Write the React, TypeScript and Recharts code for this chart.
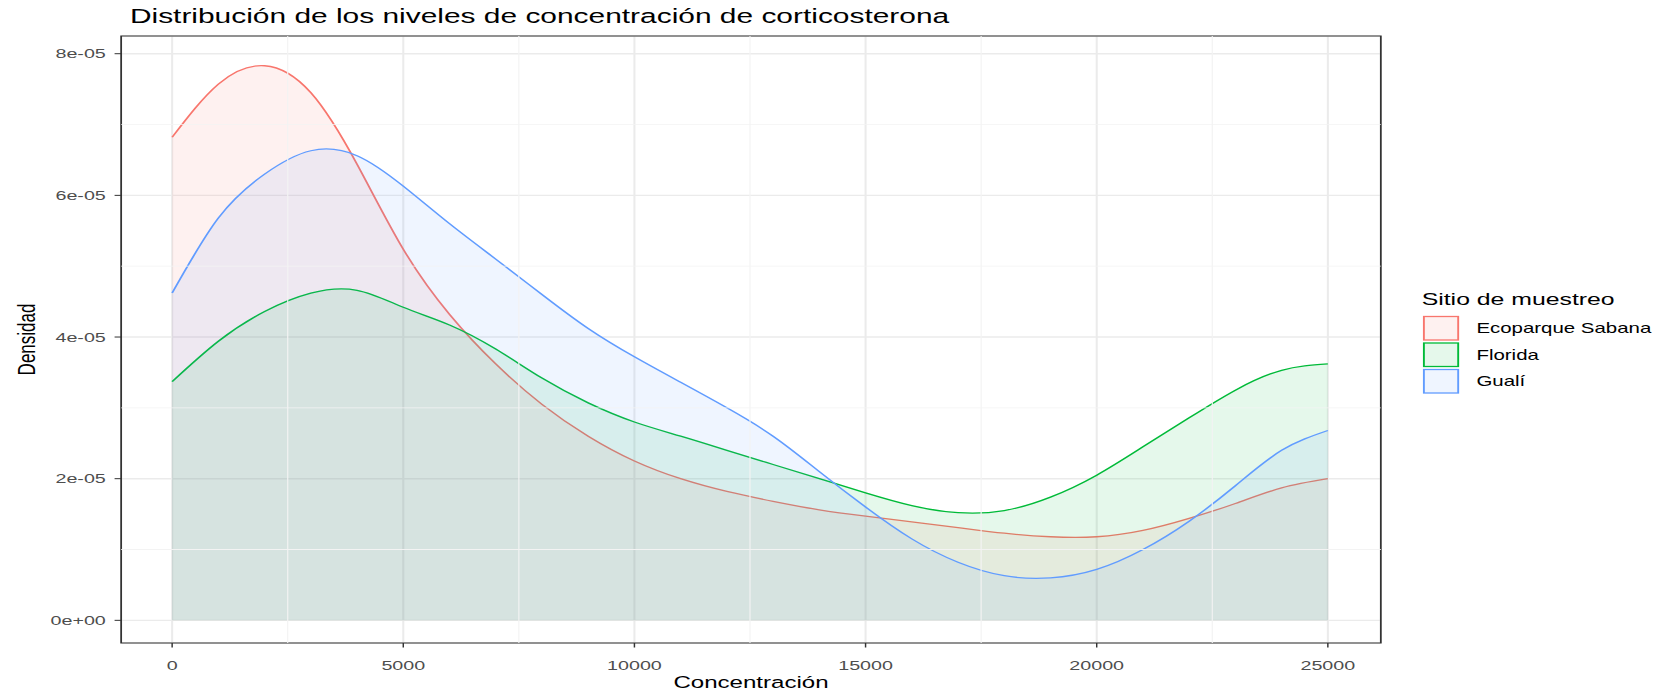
import React from 'react';
import { AreaChart, Area, XAxis, YAxis, CartesianGrid, ReferenceLine, ReferenceArea, Label } from 'recharts';

// ---- data (density values) ----
const concentration = [0, 1000, 2000, 3000, 4000, 5000, 6000, 7000, 8000, 9000, 10000, 11000, 12000, 13000, 14000, 15000, 16000, 17000, 18000, 19000, 20000, 21000, 22000, 23000, 24000, 25000];
const ecoparque = [6.82e-5, 7.57e-5, 7.83e-5, 7.45e-5, 6.44e-5, 5.24e-5, 4.32e-5, 3.62e-5, 3.05e-5, 2.6e-5, 2.25e-5, 2.0e-5, 1.82e-5, 1.68e-5, 1.56e-5, 1.47e-5, 1.39e-5, 1.31e-5, 1.23e-5, 1.18e-5, 1.18e-5, 1.27e-5, 1.44e-5, 1.65e-5, 1.87e-5, 2.0e-5];
const florida = [3.37e-5, 3.94e-5, 4.36e-5, 4.62e-5, 4.66e-5, 4.42e-5, 4.17e-5, 3.83e-5, 3.42e-5, 3.07e-5, 2.8e-5, 2.6e-5, 2.4e-5, 2.2e-5, 2.0e-5, 1.8e-5, 1.62e-5, 1.52e-5, 1.55e-5, 1.74e-5, 2.05e-5, 2.45e-5, 2.86e-5, 3.25e-5, 3.53e-5, 3.62e-5];
const guali = [4.62e-5, 5.68e-5, 6.3e-5, 6.63e-5, 6.56e-5, 6.13e-5, 5.6e-5, 5.1e-5, 4.6e-5, 4.12e-5, 3.72e-5, 3.36e-5, 3.0e-5, 2.6e-5, 2.1e-5, 1.6e-5, 1.15e-5, 0.82e-5, 0.63e-5, 0.6e-5, 0.72e-5, 1.0e-5, 1.4e-5, 1.9e-5, 2.4e-5, 2.68e-5];

const seriesKeys = ['eco', 'flo', 'gua'];
const seriesNames = ['Ecoparque Sabana', 'Florida', 'Gualí'];
const seriesColors = ['#F8766D', '#00BA38', '#619CFF'];

const xTicks = [0, 5000, 10000, 15000, 20000, 25000];
const xMinorTicks = [2500, 7500, 12500, 17500, 22500];
const yTicks = [0, 2e-5, 4e-5, 6e-5, 8e-5];
const yTickLabels = ['0e+00', '2e-05', '4e-05', '6e-05', '8e-05'];
const yMinorTicks = [1e-5, 3e-5, 5e-5, 7e-5];

const titleText = 'Distribución de los niveles de concentración de corticosterona';
const xTitle = 'Concentración';
const yTitle = 'Densidad';
const legendTitle = 'Sitio de muestreo';

const data = concentration.map((x, i) => ({ x, eco: ecoparque[i], flo: florida[i], gua: guali[i] }));

// ---- layout ----
const W = 1140;
const H = 693;
const SX = 1664 / W; // the reference is stretched horizontally
const FONT = '"Liberation Sans", Arial, Helvetica, sans-serif';
const X_DOMAIN = [-1103, 26146];
const Y_DOMAIN = [-3.2e-6, 8.25e-5];

export default function App() {
  return (
    <div style={{ position: 'absolute', left: 0, top: 0, width: W, height: H, transform: `scaleX(${SX})`, transformOrigin: '0 0', background: '#fff', fontFamily: FONT }}>
      <AreaChart width={W} height={H} data={data} margin={{ top: 36, right: 194, bottom: 20, left: 23 }}>
        <CartesianGrid stroke="#EBEBEB" strokeWidth={1.4} horizontal vertical />
        {xMinorTicks.map((v) => (
          <ReferenceLine key={'xm' + v} x={v} stroke="#F3F3F3" strokeWidth={0.8} />
        ))}
        {yMinorTicks.map((v) => (
          <ReferenceLine key={'ym' + v} y={v} stroke="#F3F3F3" strokeWidth={0.8} />
        ))}
        <XAxis
          dataKey="x"
          type="number"
          domain={X_DOMAIN}
          allowDataOverflow
          ticks={xTicks}
          tickFormatter={(v) => String(v)}
          axisLine={false}
          tickLine={{ stroke: '#333333', strokeWidth: 1 }}
          tickSize={4.5}
          tickMargin={12.5}
          height={30}
          tick={{ fill: '#4D4D4D', fontSize: 13.5, fontFamily: FONT }}
        >
          <Label
            content={(props: any) => {
              const vb = props.viewBox || {};
              return (
                <text x={vb.x + vb.width / 2} y={688} textAnchor="middle" fontSize={16.5} fontFamily={FONT} fill="#000">
                  {xTitle}
                </text>
              );
            }}
          />
        </XAxis>
        <YAxis
          type="number"
          domain={Y_DOMAIN}
          allowDataOverflow
          ticks={yTicks}
          tickFormatter={(v) => yTickLabels[yTicks.indexOf(v)] ?? String(v)}
          axisLine={false}
          tickLine={{ stroke: '#333333', strokeWidth: 1 }}
          tickSize={4.5}
          tickMargin={6}
          width={60}
          tick={{ fill: '#4D4D4D', fontSize: 13.5, fontFamily: FONT }}
        >
          <Label
            content={(props: any) => {
              const vb = props.viewBox || {};
              const cy = vb.y + vb.height / 2;
              return (
                <text x={24} y={cy} transform={`rotate(-90, 24, ${cy})`} textAnchor="middle" fontSize={17} fontFamily={FONT} fill="#000">
                  {yTitle}
                </text>
              );
            }}
          />
        </YAxis>
        {seriesKeys.map((k, i) => (
          <Area
            key={k}
            type="natural"
            dataKey={k}
            name={seriesNames[i]}
            stroke={seriesColors[i]}
            strokeWidth={1.3}
            fill={seriesColors[i]}
            fillOpacity={0.1}
            baseValue={0}
            dot={false}
            activeDot={false}
            isAnimationActive={false}
          />
        ))}
        <ReferenceArea x1={X_DOMAIN[0]} x2={X_DOMAIN[1]} y1={Y_DOMAIN[0]} y2={Y_DOMAIN[1]} fill="none" stroke="#333333" strokeWidth={1.2} ifOverflow="visible" />
      </AreaChart>
      <svg width={W} height={H} style={{ position: 'absolute', left: 0, top: 0, pointerEvents: 'none' }}>
        <text x={89} y={23} fontSize={20.5} fontFamily={FONT} fill="#000">{titleText}</text>
        <text x={974} y={305} fontSize={17} fontFamily={FONT} fill="#000">{legendTitle}</text>
        {seriesNames.map((n, i) => (
          <g key={n}>
            <rect x={974.5} y={315.5 + i * 26.5} width={25.5} height={25.5} fill="#fff" />
            <rect x={975.5} y={316.5 + i * 26.5} width={23.5} height={23.5} fill={seriesColors[i]} fillOpacity={0.1} stroke={seriesColors[i]} strokeWidth={1.3} />
            <text x={1011.5} y={328.2 + i * 26.5} dy="0.35em" fontSize={14} fontFamily={FONT} fill="#000">{n}</text>
          </g>
        ))}
      </svg>
    </div>
  );
}
